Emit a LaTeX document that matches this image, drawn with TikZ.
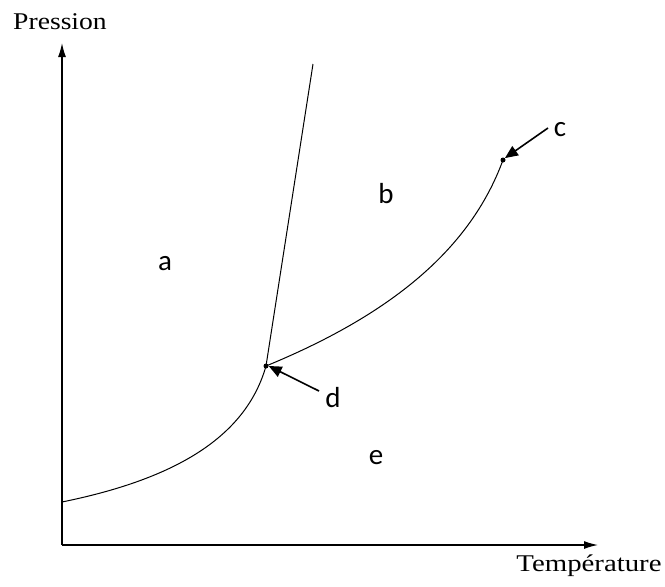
\documentclass[tikz,border=0pt]{standalone}
\usepackage{fontspec}
\setmainfont{Liberation Serif}
\newfontfamily\lblfont{Carlito}
\usetikzlibrary{arrows.meta}
\tikzset{
    phase/.style={font=\lblfont\fontsize{29}{32}\selectfont},
    axislabel/.style={font=\fontsize{24}{27}\selectfont},
    pointer/.style={line width=1.6pt,-{Triangle[length=13pt,width=11pt]}}
}
\begin{document}
\begin{tikzpicture}[x=1pt,y=-1pt]
    \useasboundingbox (0,0) rectangle (665,587);
    % axes
        \coordinate (O) at (62,545);
        \coordinate (ytip) at (62,43);
        \coordinate (xtip) at (598,545);
        \draw[line width=1.3pt,-{Latex[length=14pt,width=8pt]}] (O) -- (ytip);
        \draw[line width=1.3pt,-{Latex[length=14pt,width=8pt]}] (O) -- (xtip);
        \node[axislabel] (pres) at (60,22) {\scalebox{1.15}[1]{Pression}};
        \node[axislabel] (temp) at (589,566) {\scalebox{1.2}[1]{Température}};
    % points
        \node[circle,fill,inner sep=0pt,minimum size=5pt] (d) at (266,366) {};
        \node[circle,fill,inner sep=0pt,minimum size=5pt] (c) at (503,160) {};
        \coordinate (start) at (62,502);
        \coordinate (melt) at (313,64);
    % curves
        \draw[line width=1pt] (start) .. controls (170,480) and (245,440) .. (d.center);
        \draw[line width=1pt] (d.center) .. controls (390,315) and (470,250) .. (c.center);
        \draw[line width=1pt] (d.center) -- (melt);
    % labels
        \node[phase] (a) at (165,264) {a};
        \node[phase] (b) at (386,194) {b};
        \node[phase] (lc) at (560,130) {c};
        \node[phase] (ld) at (333,398) {d};
        \node[phase] (e) at (376,458) {e};
        \draw[pointer] (548,128) -- (c.north east);
        \draw[pointer] (319,391) -- (d.east);
\end{tikzpicture}
\end{document}
